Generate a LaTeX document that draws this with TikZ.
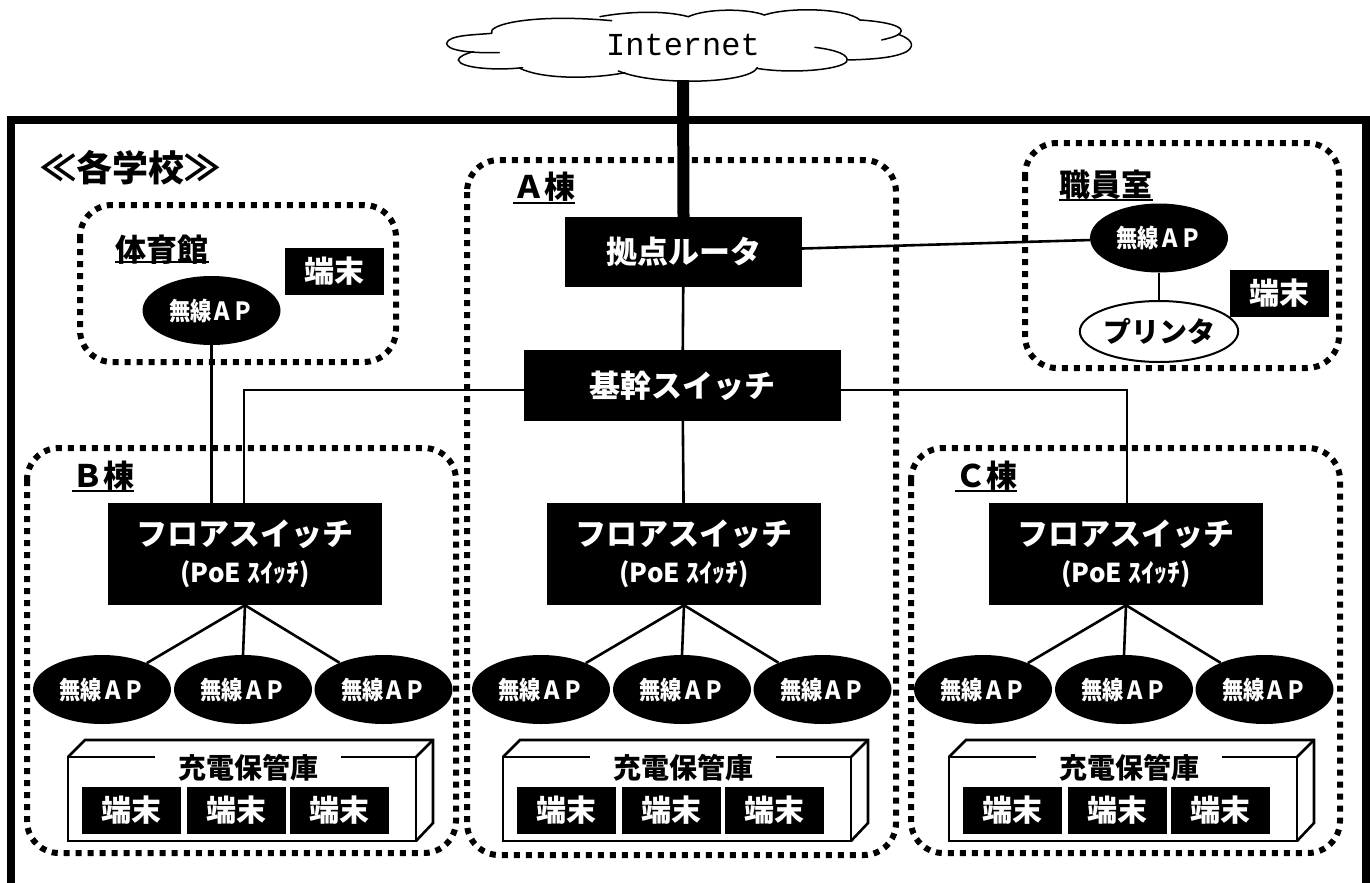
\documentclass[tikz,border=0pt]{standalone}
\usepackage{fontspec}
\setmainfont{Noto Sans CJK JP}
\newfontfamily\jpn{Noto Sans CJK JP}
\newfontfamily\jpnap[FakeStretch=0.85]{Noto Sans CJK JP}
\newfontfamily\mono{Liberation Mono}
\usetikzlibrary{shapes.geometric,calc}
\tikzset{
 x=1pt,y=-1pt,
 zone/.style={draw=black,line width=6pt,dash pattern=on 6pt off 6pt,rounded corners=32pt},
 blackbox/.style={fill=black,text=white,inner sep=0pt,align=center,font=\jpn\bfseries\fontsize{31}{38}\selectfont},
 term/.style={fill=black,text=white,inner sep=0pt,minimum width=99pt,minimum height=47pt,font=\jpn\bfseries\fontsize{30}{34}\selectfont},
 apnode/.style={ellipse,fill=black,text=white,inner sep=0pt,minimum width=138pt,minimum height=69pt,font=\jpnap\bfseries\fontsize{25}{30}\selectfont},
 link/.style={draw=black,line width=2.6pt},
 cloudline/.style={draw=black,line width=1.5pt,line cap=round},
 boxline/.style={draw=black,line width=2.6pt,line join=miter},
 lbl/.style={inner sep=0pt,font=\jpn\bfseries\fontsize{31}{36}\selectfont},
 under/.style={draw=black,line width=2pt},
}
\begin{document}
\begin{tikzpicture}
\useasboundingbox (0,0) rectangle (1370,883);
% outer frame
\draw[black,line width=8pt] (10.5,890) -- (10.5,120) -- (1365.5,120) -- (1365.5,890);
% zones
\draw[zone] (80,205) rectangle (396,362);
\draw[zone] (467,160) rectangle (896,855);
\draw[zone] (1025,143) rectangle (1339,368);
\draw[zone] (27,448) rectangle (456,853);
\draw[zone] (911,448) rectangle (1340,853);
% cloud
\node[inner sep=0pt,minimum width=200pt,minimum height=70pt,font=\mono\fontsize{32}{36}\selectfont] (inet) at (683,45) {Internet};
\begin{scope}[shift={(430,0)},x=0.3333pt,y=-0.3333pt]
\draw[cloudline] (208,158) .. controls (110,160) and (50,150) .. (50,130) .. controls (55,105) and (130,105) .. (185,100);
\draw[cloudline] (185,100) .. controls (170,75) and (300,40) .. (545,62);
\draw[cloudline] (510,50) .. controls (590,35) and (700,30) .. (775,50);
\draw[cloudline] (775,50) .. controls (830,25) and (950,25) .. (1003,45);
\draw[cloudline] (1003,45) .. controls (1080,20) and (1250,25) .. (1290,60);
\draw[cloudline] (1290,60) .. controls (1370,65) and (1430,80) .. (1410,100) .. controls (1400,110) and (1375,115) .. (1355,120);
\draw[cloudline] (1405,103) .. controls (1440,115) and (1460,135) .. (1430,155) .. controls (1390,175) and (1320,178) .. (1255,180);
\draw[cloudline] (1155,142) .. controls (1220,150) and (1260,165) .. (1250,185) .. controls (1230,210) and (1080,222) .. (980,205);
\draw[cloudline] (982,203) .. controls (960,250) and (680,260) .. (565,213);
\draw[cloudline] (585,218) .. controls (470,240) and (330,235) .. (270,205);
\draw[cloudline] (278,203) .. controls (200,212) and (90,205) .. (85,180) .. controls (85,170) and (110,160) .. (130,155);
\end{scope}
% core
\node[blackbox,minimum width=237pt,minimum height=70pt] (router) at (683.5,252) {拠点ルータ};
\node[blackbox,minimum width=317pt,minimum height=71pt] (core) at (682.5,385.5) {基幹スイッチ};
\draw[black,line width=12pt] (inet.south) -- (router.north);
\draw[link] (router) -- (core);
% gym
\node[apnode] (apgym) at (211.5,310.5) {無線ＡＰ};
\node[term] (tgym) at (334,271) {端末};
\node[lbl] (lgym) at (162,250) {体育館};
\draw[under] (lgym.west |- 0,262) -- (lgym.east |- 0,262);
% staff
\node[apnode] (apstaff) at (1159,238) {無線ＡＰ};
\node[ellipse,draw=black,line width=2pt,fill=white,inner sep=0pt,minimum width=138pt,minimum height=61pt,font=\jpn\bfseries\fontsize{28}{32}\selectfont] (printer) at (1159,331.5) {プリンタ};
\node[term] (tstaff) at (1279,293.5) {端末};
\node[lbl] (lstaff) at (1106,185) {職員室};
\draw[under] (lstaff.west |- 0,200) -- (lstaff.east |- 0,200);
\draw[link] (apstaff) -- (printer);
\draw[link] (router) -- (apstaff);
% other labels
\node[inner sep=0pt,font=\jpn\bfseries\fontsize{36}{40}\selectfont] (title) at (130,168) {≪各学校≫};
\node[lbl] (la) at (544,187) {Ａ棟};
\draw[under] (la.west |- 0,203) -- (la.east |- 0,203);
\node[lbl] (lb) at (103,476) {Ｂ棟};
\draw[under] (lb.west |- 0,491) -- (lb.east |- 0,491);
\node[lbl] (lc) at (986,476) {Ｃ棟};
\draw[under] (lc.west |- 0,491) -- (lc.east |- 0,491);
% buildings
\foreach \n/\dx/\dy/\cx in {b/0/0/245,a/439/0/684,c/881/0/1126}{
\begin{scope}[shift={(\dx,\dy)}]
\node[blackbox,minimum width=274pt,minimum height=102pt] (fs\n) at (245,554) {フロアスイッチ\\[-1pt]{\fontsize{26}{30}\selectfont (PoE ｽｲｯﾁ)}};
\node[apnode] (ap\n1) at (102,689.5) {無線ＡＰ};
\node[apnode] (ap\n2) at (243,689.5) {無線ＡＰ};
\node[apnode] (ap\n3) at (383.5,689.5) {無線ＡＰ};
\draw[link] (fs\n.south) -- (ap\n1);
\draw[link] (fs\n.south) -- (ap\n2 |- 0,655);
\draw[link] (fs\n.south) -- (ap\n3);
\end{scope}
}
\foreach \n/\dx in {b/0,a/435,c/881}{
\begin{scope}[shift={(\dx,0)}]
\draw[boxline] (155,757) -- (68,757) -- (68,841) -- (416,841) -- (416,757) -- (341,757);
\draw[boxline] (68,757) -- (85,740) -- (433,740) -- (433,823) -- (416,841);
\draw[boxline] (416,757) -- (433,740);
\node[inner sep=0pt,font=\jpn\bfseries\fontsize{28}{32}\selectfont] (st\n) at (248,768) {充電保管庫};
\node[term] (t\n1) at (131.5,810.5) {端末};
\node[term] (t\n2) at (236.5,810.5) {端末};
\node[term] (t\n3) at (339.5,810.5) {端末};
\end{scope}
}
% trunk connectors
\coordinate (jb) at (244,390);
\coordinate (jc) at (1127,390);
\draw[link] (core.west |- jb) -- (jb) -- (jb |- fsb.north);
\draw[link] (core.east |- jc) -- (jc) -- (jc |- fsc.north);
\draw[link] (core) -- (fsa);
\draw[link] (apgym) -- (apgym |- fsb.north);
\end{tikzpicture}
\end{document}
